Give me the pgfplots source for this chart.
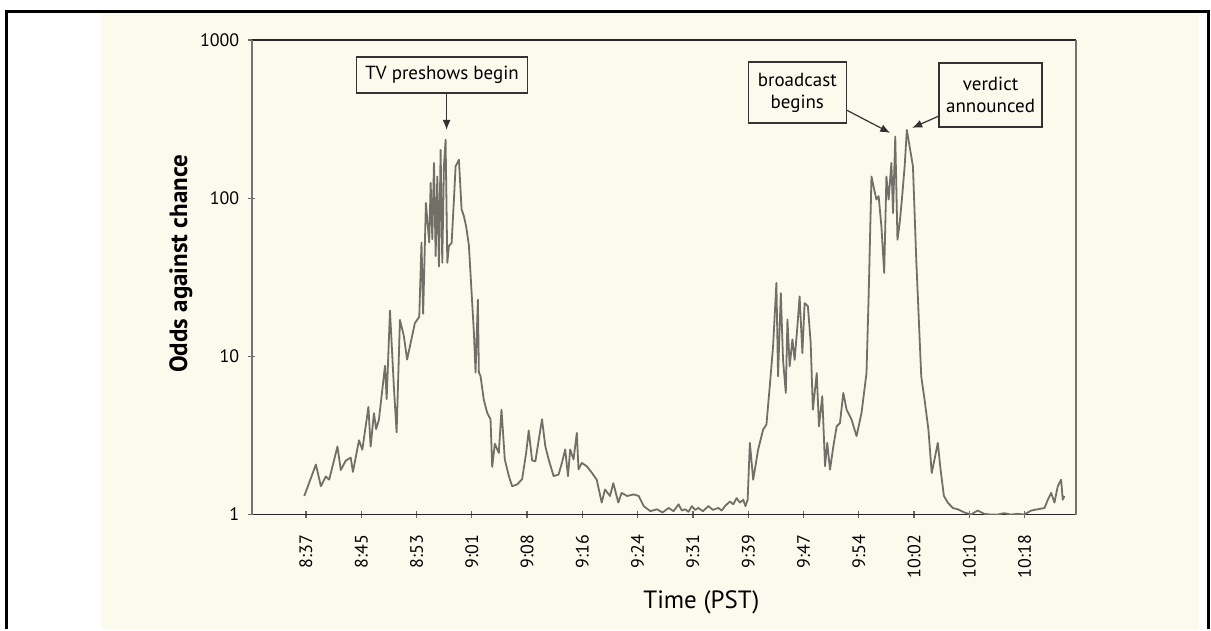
\documentclass[border=0pt]{standalone}
\usepackage{pgfplots}
\pgfplotsset{compat=1.18}
\usepackage{pgfplotstable}
\usetikzlibrary{arrows.meta}
\usepackage{fontspec}
\setmainfont{PT Sans}
\definecolor{cream}{RGB}{252,250,237}
\definecolor{trace}{RGB}{112,112,105}
\pgfplotstableread{
x y
-0.03 1.31
0.18 2.07
0.27 1.51
0.36 1.74
0.42 1.66
0.57 2.69
0.63 1.91
0.72 2.19
0.81 2.29
0.85 1.86
0.96 2.95
1.02 2.57
1.13 4.79
1.17 2.69
1.23 4.37
1.27 3.47
1.32 3.98
1.43 8.71
1.46 5.37
1.52 19.5
1.59 6.46
1.64 3.31
1.70 17.0
1.77 13.5
1.83 9.55
1.97 16.2
2.05 17.8
2.09 52.5
2.12 18.6
2.17 93.3
2.23 52.5
2.256 125
2.286 55
2.316 167
2.346 43
2.376 137
2.406 37
2.436 202
2.466 39
2.496 159
2.526 234
2.557 39
2.587 50
2.635 52
2.677 98
2.707 159
2.767 175
2.815 85
2.857 77
2.899 66
2.948 50
3.038 14.1
3.068 7.9
3.110 22.8
3.128 7.9
3.158 7.5
3.218 5.3
3.278 4.4
3.339 4.0
3.369 2.0
3.417 2.8
3.489 2.45
3.537 4.6
3.597 2.23
3.670 1.75
3.730 1.51
3.820 1.55
3.910 1.67
3.983 2.45
4.030 3.4
4.091 2.2
4.15 2.17
4.27 4.0
4.33 2.70
4.39 2.23
4.48 1.75
4.57 1.79
4.63 2.12
4.69 2.58
4.74 1.75
4.78 2.58
4.84 2.23
4.90 3.28
4.93 1.93
4.99 2.12
5.08 2.02
5.17 1.84
5.26 1.66
5.35 1.19
5.41 1.44
5.50 1.31
5.56 1.58
5.65 1.19
5.71 1.37
5.81 1.31
5.93 1.34
6.02 1.31
6.11 1.13
6.23 1.05
6.35 1.08
6.45 1.03
6.56 1.10
6.65 1.05
6.74 1.16
6.80 1.06
6.86 1.08
6.92 1.04
6.98 1.13
7.04 1.07
7.10 1.10
7.18 1.05
7.28 1.13
7.36 1.07
7.46 1.10
7.52 1.06
7.58 1.13
7.67 1.21
7.73 1.16
7.79 1.27
7.85 1.19
7.91 1.24
7.95 1.13
7.99 1.24
8.03 2.84
8.09 1.66
8.18 2.58
8.27 3.44
8.33 3.71
8.39 6.47
8.45 11.6
8.51 29.1
8.54 7.48
8.59 25.1
8.63 9.5
8.68 5.87
8.71 17.1
8.75 8.65
8.80 12.8
8.84 9.5
8.89 15.5
8.93 23.9
8.98 10.5
9.02 21.7
9.08 20.7
9.13 12.2
9.17 4.6
9.24 7.85
9.28 3.61
9.34 5.6
9.39 2.02
9.43 2.84
9.48 1.92
9.54 2.70
9.60 3.61
9.66 3.79
9.72 5.87
9.78 4.6
9.87 3.98
9.96 3.13
10.05 4.39
10.14 7.85
10.18 25.1
10.23 137
10.28 113
10.32 98
10.36 103
10.41 66
10.46 33.7
10.50 137
10.54 98
10.59 167
10.62 80.5
10.66 245
10.70 54.6
10.74 69.7
10.78 98
10.83 159
10.87 270
10.92 212
10.98 159
11.04 40.8
11.13 7.48
11.19 5.33
11.26 3.44
11.32 1.83
11.37 2.23
11.43 2.84
11.48 1.92
11.54 1.31
11.61 1.19
11.70 1.10
11.79 1.08
11.91 1.03
12.03 1.0
12.15 1.06
12.27 1.01
12.39 1.0
12.51 1.0
12.63 1.02
12.75 1.0
12.88 1.01
12.99 1.0
13.12 1.06
13.24 1.08
13.36 1.10
13.42 1.24
13.48 1.37
13.54 1.19
13.60 1.51
13.66 1.66
13.69 1.24
13.72 1.31
}\odds
\begin{document}
\begin{tikzpicture}
\begin{scope}[x=0.5pt,y=-0.5pt]
\fill[white] (0,0) rectangle (1211,630);
\fill[cream] (102,13) rectangle (1200,630);
\draw[black,line width=1.1pt] (6.5,630) -- (6.5,11.5) -- (1211,11.5);
\draw[black,line width=1.1pt] (1209.5,11.5) -- (1209.5,630);
\end{scope}
\begin{axis}[
  at={(126pt,-257.5pt)}, anchor=south west,
  scale only axis, width=412.5pt, height=237.5pt,
  ymode=log, ymin=1, ymax=1000,
  xmin=-0.98, xmax=13.93,
  xtick={0,...,13},
  xticklabels={8:37,8:45,8:53,9:01,9:08,9:16,9:24,9:31,9:39,9:47,9:54,10:02,10:10,10:18},
  x tick label style={yshift=-5pt, rotate=90, anchor=east, font=\fontsize{9}{9}\selectfont},
  ytick={1,10,100,1000}, yticklabels={1,10,100,1000},
  y tick label style={font=\fontsize{9}{9}\selectfont, xshift=-1pt},
  yminorticks=false,
  tick pos=left,
  tick align=center, major tick length=3.5pt,
  tick style={black!60, line width=0.6pt},
  separate axis lines,
  x axis line style={black!85, line width=0.9pt},
  y axis line style={black!55, line width=0.8pt},
]
\addplot[trace, line width=0.9pt, line join=round] table[x=x,y=y] {\odds};
\end{axis}
\begin{scope}[x=0.5pt,y=-0.5pt]
\node[rotate=90, font=\bfseries\fontsize{12.5}{12.5}\selectfont] at (181,264) {Odds against chance};
\node[font=\fontsize{12.5}{12.5}\selectfont] at (702,603) {Time (PST)};
% annotations
\draw[black!80, line width=0.7pt] (357,57) rectangle (528,93);
\node[font=\fontsize{9.5}{9.5}\selectfont] at (442.5,75) {TV preshows begin};
\draw[black!80, line width=0.6pt, -{Latex[length=5pt,width=4pt]}] (447,93) -- (447,130);
\draw[black!80, line width=0.7pt] (749,62) rectangle (847,123);
\node[font=\fontsize{9.5}{11}\selectfont, align=center] at (798,92.5) {broadcast\\begins};
\draw[black!80, line width=0.6pt, -{Latex[length=5pt,width=4pt]}] (847,110) -- (891,133);
\draw[black!80, line width=0.7pt] (940,63) rectangle (1043,127);
\node[font=\fontsize{9.5}{11}\selectfont, align=center] at (991.5,95) {verdict\\announced};
\draw[black!80, line width=0.6pt, -{Latex[length=5pt,width=4pt]}] (940,116) -- (913,128);
\end{scope}
\end{tikzpicture}
\end{document}
